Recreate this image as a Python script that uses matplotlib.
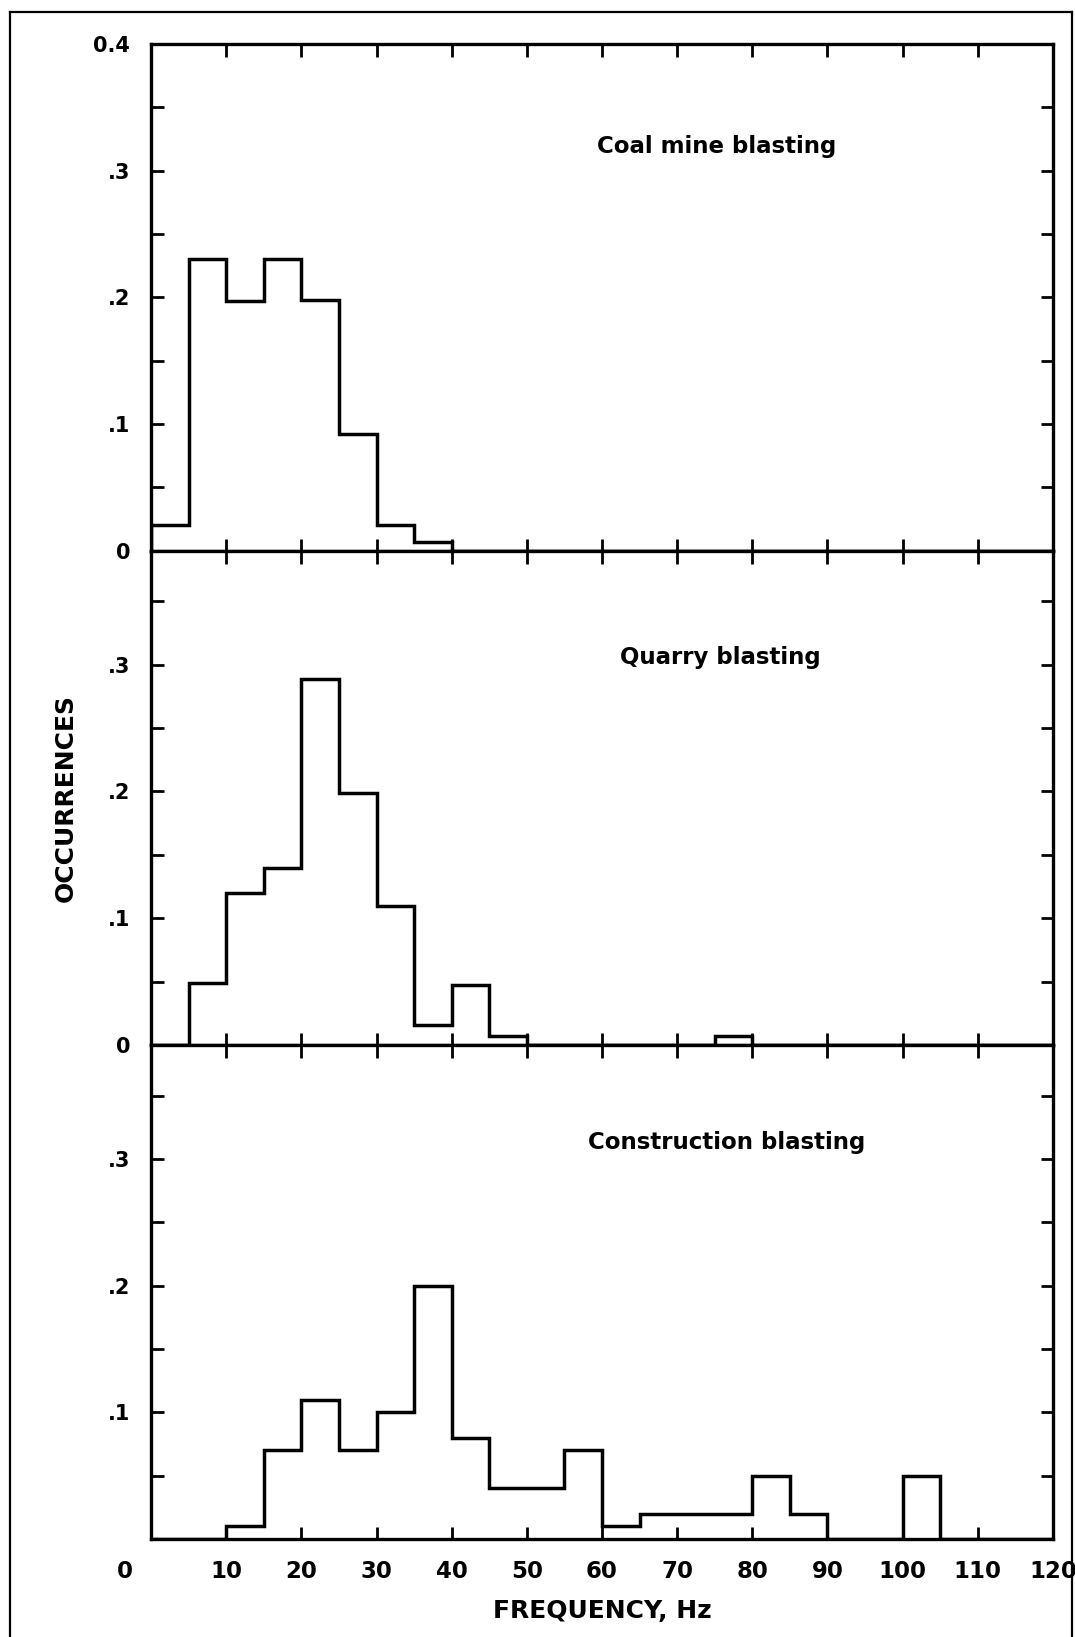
import numpy as np
import matplotlib
matplotlib.use("Agg")
import matplotlib.pyplot as plt
from matplotlib.lines import Line2D
from matplotlib.ticker import FixedLocator, FixedFormatter

# -----------------------------
# Data: occurrence per 5 Hz bin, 0-120 Hz
# -----------------------------
bin_edges = np.arange(0, 125, 5)

coal = [0.02, 0.23, 0.197, 0.23, 0.198, 0.092, 0.02, 0.007,
        0, 0, 0, 0, 0, 0, 0, 0, 0, 0, 0, 0, 0, 0, 0, 0]
quarry = [0, 0.049, 0.12, 0.14, 0.289, 0.199, 0.11, 0.016,
          0.047, 0.007, 0, 0, 0, 0, 0, 0.007, 0, 0, 0, 0, 0, 0, 0, 0]
construction = [0, 0, 0.01, 0.07, 0.11, 0.07, 0.1, 0.2,
                0.08, 0.04, 0.04, 0.07, 0.01, 0.02, 0.02, 0.02,
                0.05, 0.02, 0, 0, 0.05, 0, 0, 0]

panel_titles = ["Coal mine blasting", "Quarry blasting", "Construction blasting"]
title_pos = [(75.2, 0.319), (75.7, 0.306), (76.6, 0.313)]

x_ticks = list(range(0, 130, 10))
x_ticklabels = [""] + [str(v) for v in x_ticks[1:]]
y_major = [0, 0.1, 0.2, 0.3, 0.4]
y_labels = [
    ["0", ".1", ".2", ".3", "0.4"],
    ["0", ".1", ".2", ".3", ""],
    ["", ".1", ".2", ".3", ""],
]
y_tops = [0.4, 0.39, 0.39]

# -----------------------------
# Figure
# -----------------------------
plt.rcParams["font.family"] = ["DejaVu Sans"]
plt.rcParams["font.weight"] = "bold"

fig = plt.figure(figsize=(10.75, 16.37), dpi=100)
gs = fig.add_gridspec(3, 1, height_ratios=y_tops, hspace=0,
                      left=0.1405, right=0.9795, top=0.9731, bottom=0.0599)

axes = []
for i, vals in enumerate([coal, quarry, construction]):
    ax = fig.add_subplot(gs[i])
    ax.stairs(vals, bin_edges, color="black", linewidth=2.5, baseline=0)
    ax.set_xlim(0, 120)
    ax.set_ylim(0, y_tops[i])

    ax.yaxis.set_major_locator(FixedLocator(y_major))
    ax.yaxis.set_major_formatter(FixedFormatter(y_labels[i]))
    ax.yaxis.set_minor_locator(FixedLocator([0.05, 0.15, 0.25, 0.35]))
    ax.xaxis.set_major_locator(FixedLocator(x_ticks))

    ax.tick_params(which="both", direction="in", length=9, width=2,
                   top=True, right=True)
    ax.tick_params(axis="y", labelsize=15, pad=15)
    ax.tick_params(axis="x", labelsize=16.5, pad=15)
    for s in ax.spines.values():
        s.set_linewidth(2.4)

    ax.text(title_pos[i][0], title_pos[i][1], panel_titles[i],
            ha="center", va="center", fontsize=16.5, fontweight="bold")

    if i < 2:
        ax.set_xticklabels([])
    else:
        ax.set_xticklabels(x_ticklabels)
        # the "0" label sits left of the axis origin in the original
        ax.annotate("0", xy=(0, 0), xycoords=("data", "axes fraction"),
                    xytext=(-19, -15), textcoords="offset points",
                    ha="center", va="top", fontsize=16.5, fontweight="bold")
        ax.set_xlabel("FREQUENCY, Hz", fontsize=18, fontweight="bold",
                      labelpad=12)
    axes.append(ax)

axes[1].set_ylabel("OCCURRENCES", fontsize=18, fontweight="bold", labelpad=22)

# outer frame of the scanned figure
W, H = 1075, 1637
for xs, ys in [((10 / W, 10 / W), (0, 1 - 12 / H)),
               ((10 / W, 1072 / W), (1 - 12 / H, 1 - 12 / H)),
               ((1072 / W, 1072 / W), (0, 1 - 12 / H))]:
    fig.add_artist(Line2D(xs, ys, color="black", linewidth=1.6,
                          transform=fig.transFigure))

fig.savefig("out.png", dpi=100)
